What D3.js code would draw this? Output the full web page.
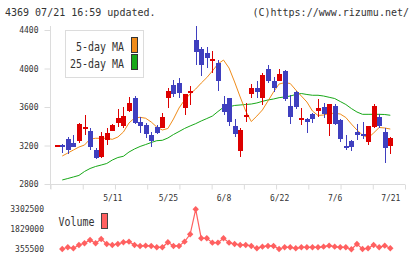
<!DOCTYPE html>
<html>
<head>
<meta charset="utf-8">
<script src="https://d3js.org/d3.v7.min.js"></script>
<style>
  body { margin: 0; background: #fff; }
  text { font-family: "DejaVu Sans Mono", monospace; }
</style>
</head>
<body>
<script>
// Chart size
var width = 420, height = 259;

// Daily prices (index 0 = oldest)
var open  = [3195, 3210, 3268, 3223, 3250, 3368, 3351, 3153, 3084, 3257,
             3354, 3437, 3405, 3558, 3690, 3447, 3413, 3309, 3395, 3385,
             3690, 3829, 3853, 3586, 3742, 4296, 4199, 4164, 4085, 4054,
             3628, 3690, 3406, 3146, 3493, 3735, 3800, 3690, 3995, 3870,
             3873, 3974, 3610, 3753, 3472, 3475, 3524, 3562, 3600, 3423,
             3610, 3465, 3198, 3250, 3340, 3319, 3240, 3395, 3496, 3343,
             3198];
var high  = [3210, 3215, 3291, 3310, 3430, 3517, 3382, 3170, 3343, 3380,
             3420, 3579, 3603, 3707, 3710, 3493, 3437, 3343, 3413, 3541,
             3794, 3880, 3904, 3735, 3818, 4440, 4227, 4220, 4185, 4088,
             3714, 3697, 3475, 3385, 3638, 3835, 3870, 3950, 4036, 3915,
             3995, 3980, 3725, 3766, 3593, 3489, 3535, 3683, 3638, 3628,
             3631, 3475, 3309, 3257, 3423, 3447, 3403, 3631, 3524, 3379,
             3291];
var low   = [3195, 3120, 3112, 3188, 3230, 3309, 3153, 3057, 3067, 3205,
             3350, 3389, 3379, 3550, 3420, 3327, 3275, 3181, 3320, 3385,
             3586, 3707, 3690, 3517, 3621, 4036, 3925, 4002, 3956, 3766,
             3517, 3406, 3291, 3084, 3447, 3690, 3690, 3621, 3846, 3759,
             3870, 3660, 3423, 3579, 3413, 3327, 3430, 3500, 3482, 3302,
             3413, 3233, 3153, 3146, 3257, 3264, 3205, 3379, 3380, 3021,
             3112];
var close = [3205, 3190, 3153, 3188, 3423, 3395, 3188, 3073, 3299, 3333,
             3413, 3489, 3506, 3638, 3431, 3402, 3319, 3250, 3327, 3493,
             3766, 3732, 3742, 3732, 3769, 4175, 4036, 4112, 4096, 3870,
             3551, 3447, 3320, 3361, 3517, 3800, 3759, 3932, 3873, 3794,
             3943, 3680, 3493, 3603, 3482, 3447, 3475, 3593, 3524, 3628,
             3423, 3264, 3177, 3188, 3312, 3299, 3403, 3610, 3402, 3177,
             3281];

// Moving averages and volume start at index 1
var ma5  = [3091, 3122, 3153, 3184, 3205, 3267, 3275, 3275, 3275, 3264,
            3288, 3340, 3434, 3486, 3493, 3483, 3444, 3392, 3361, 3377,
            3475, 3590, 3673, 3735, 3787, 3849, 3906, 3974, 4047, 4088,
            4005, 3860, 3704, 3558, 3449, 3506, 3569, 3662, 3756, 3839,
            3853, 3844, 3777, 3714, 3652, 3558, 3512, 3517, 3532, 3535,
            3527, 3491, 3423, 3361, 3309, 3278, 3330, 3387, 3382, 3371];
var ma25 = [2842, 2857, 2873, 2889, 2930, 2961, 2982, 2997, 3013, 3049,
            3075, 3088, 3132, 3164, 3190, 3210, 3231, 3250, 3254, 3278,
            3314, 3345, 3377, 3403, 3427, 3455, 3480, 3506, 3553, 3597,
            3602, 3616, 3621, 3626, 3631, 3642, 3659, 3673, 3683, 3697,
            3704, 3714, 3730, 3740, 3730, 3722, 3722, 3714, 3701, 3688,
            3657, 3626, 3584, 3548, 3524, 3524, 3524, 3524, 3522, 3514];
var volume = [380000, 503000, 429000, 675000, 798000, 1043000, 798000, 1117000, 748000, 675000,
              748000, 871000, 920000, 675000, 601000, 626000, 601000, 503000, 503000, 871000,
              601000, 601000, 920000, 1461000, 3302500, 1166000, 1166000, 847000, 847000, 1166000,
              847000, 748000, 675000, 675000, 601000, 429000, 552000, 601000, 601000, 380000,
              503000, 503000, 429000, 503000, 503000, 503000, 503000, 552000, 626000, 552000,
              503000, 503000, 355500, 748000, 380000, 429000, 675000, 503000, 626000, 429000];

// Axis labels
var priceTicks = [2800, 3200, 3600, 4000, 4400];
var volTicks = [355500, 1829000, 3302500];
var dateLabels = ["5/11", "5/25", "6/8", "6/22", "7/6", "7/21"];
var dateIdx = [10, 20, 30, 40, 50, 60];

var upColor = "#dd0000", downColor = "#3f3fbf";
var ma5Color = "#f08c1a", ma25Color = "#18a818", volColor = "#ff6060";
var gridColor = "#dcdcdc", textColor = "#333";

function draw() {
    var svg = d3.select("body").append("svg")
        .attr("width", width)
        .attr("height", height);

    var x = d3.scaleLinear().domain([0, open.length - 1]).range([56.7, 390.3]);
    var y = d3.scaleLinear().domain([2800, 4400]).range([184, 30]);
    var yv = d3.scaleLinear().domain([355500, 3302500]).range([249.3, 209.3]);
    var grid = d3.scaleLinear().domain([0, 11]).range([50.5, 405]);

    // header
    svg.append("text").attr("x", 5).attr("y", 16)
        .attr("font-size", 10).attr("fill", textColor).text("4369 07/21 16:59 updated.");
    svg.append("text").attr("x", 409).attr("y", 16).attr("text-anchor", "end")
        .attr("font-size", 10).attr("fill", textColor).text("(C)https://www.rizumu.net/");

    // price axis
    var ax = svg.append("g").attr("transform", "translate(50.5,0)")
        .call(d3.axisLeft(y).tickValues(priceTicks).tickSize(6).tickPadding(6).tickFormat(d3.format("d")));
    ax.select(".domain").remove();
    ax.selectAll("line").attr("stroke", gridColor);
    ax.selectAll("text").attr("font-size", 8).attr("fill", textColor).attr("font-family", "DejaVu Sans Mono");
    svg.append("line").attr("x1", 50.5).attr("x2", 50.5).attr("y1", 26).attr("y2", 189)
        .attr("stroke", gridColor);
    svg.append("line").attr("x1", 45).attr("x2", 405).attr("y1", 184.5).attr("y2", 184.5)
        .attr("stroke", gridColor);

    // bottom grid ticks
    var gx = svg.append("g").attr("transform", "translate(0,184.5)")
        .call(d3.axisBottom(grid).ticks(11).tickSize(5).tickFormat(""));
    gx.select(".domain").remove();
    gx.selectAll("line").attr("stroke", gridColor);

    // date labels
    var dx = svg.append("g").attr("transform", "translate(0,184)")
        .call(d3.axisBottom(x).tickValues(dateIdx).tickSize(0).tickPadding(11)
            .tickFormat(function(d) { return dateLabels[dateIdx.indexOf(d)]; }));
    dx.select(".domain").remove();
    dx.selectAll("text").attr("font-size", 8).attr("fill", textColor).attr("font-family", "DejaVu Sans Mono");

    // moving averages
    var idx = d3.range(1, open.length);
    var line = function(arr) {
        return d3.line().x(function(d, i) { return x(idx[i]); }).y(function(d) { return y(d); })(arr);
    };
    svg.append("path").attr("d", line(ma25)).attr("fill", "none").attr("stroke", ma25Color).attr("stroke-width", 1);
    svg.append("path").attr("d", line(ma5)).attr("fill", "none").attr("stroke", ma5Color).attr("stroke-width", 1);

    // candles
    var c = svg.append("g").attr("shape-rendering", "crispEdges");
    d3.range(open.length).forEach(function(i) {
        var col = close[i] >= open[i] ? upColor : downColor;
        c.append("line")
            .attr("x1", Math.round(x(i)) + 0.5).attr("x2", Math.round(x(i)) + 0.5)
            .attr("y1", y(high[i])).attr("y2", y(low[i]))
            .attr("stroke", col).attr("stroke-width", 1);
        var top = y(Math.max(open[i], close[i])), bot = y(Math.min(open[i], close[i]));
        c.append("rect")
            .attr("x", Math.round(x(i)) - 2).attr("y", top)
            .attr("width", 5).attr("height", Math.max(2, bot - top))
            .attr("fill", col);
    });

    // legend
    svg.append("rect").attr("x", 65.5).attr("y", 30.5).attr("width", 78).attr("height", 47)
        .attr("fill", "#fff").attr("stroke", gridColor);
    var leg = [["5-day MA", ma5Color, 37.5, 46.5], ["25-day MA", ma25Color, 54.5, 63.5]];
    leg.forEach(function(l) {
        var n = l[0].length;
        svg.append("text").attr("x", 124).attr("y", l[3] + 4).attr("text-anchor", "end")
            .attr("font-size", 12).attr("textLength", n * 6).attr("lengthAdjust", "spacingAndGlyphs")
            .attr("fill", textColor).text(l[0]);
        svg.append("rect").attr("x", 131.5).attr("y", l[2]).attr("width", 6).attr("height", 15)
            .attr("fill", l[1]).attr("stroke", "#333");
    });

    // volume
    var vl = svg.append("g").attr("transform", "translate(51,0)")
        .call(d3.axisLeft(yv).tickValues(volTicks).tickSize(0).tickPadding(7).tickFormat(d3.format("d")));
    vl.select(".domain").remove();
    vl.selectAll("text").attr("font-size", 8).attr("fill", textColor).attr("font-family", "DejaVu Sans Mono");

    svg.append("path")
        .attr("d", d3.line().x(function(d, i) { return x(idx[i]); }).y(function(d) { return yv(d); })(volume))
        .attr("fill", "none").attr("stroke", volColor).attr("stroke-width", 1.2);
    svg.append("g").selectAll("path.dot").data(volume).join("path")
        .attr("d", function(d, i) {
            var cx = x(idx[i]), cy = yv(d);
            return "M" + cx + "," + (cy - 3.2) + "L" + (cx + 3.2) + "," + cy + "L" + cx + "," + (cy + 3.2) + "L" + (cx - 3.2) + "," + cy + "Z";
        })
        .attr("fill", volColor);

    svg.append("text").attr("x", 58.5).attr("y", 225.5)
        .attr("font-size", 12).attr("textLength", 36).attr("lengthAdjust", "spacingAndGlyphs")
        .attr("fill", textColor).text("Volume");
    svg.append("rect").attr("x", 101.5).attr("y", 213.5).attr("width", 6).attr("height", 15)
        .attr("fill", volColor).attr("stroke", "#444");
}

d3.select(window).on("load", draw);
</script>
</body>
</html>
